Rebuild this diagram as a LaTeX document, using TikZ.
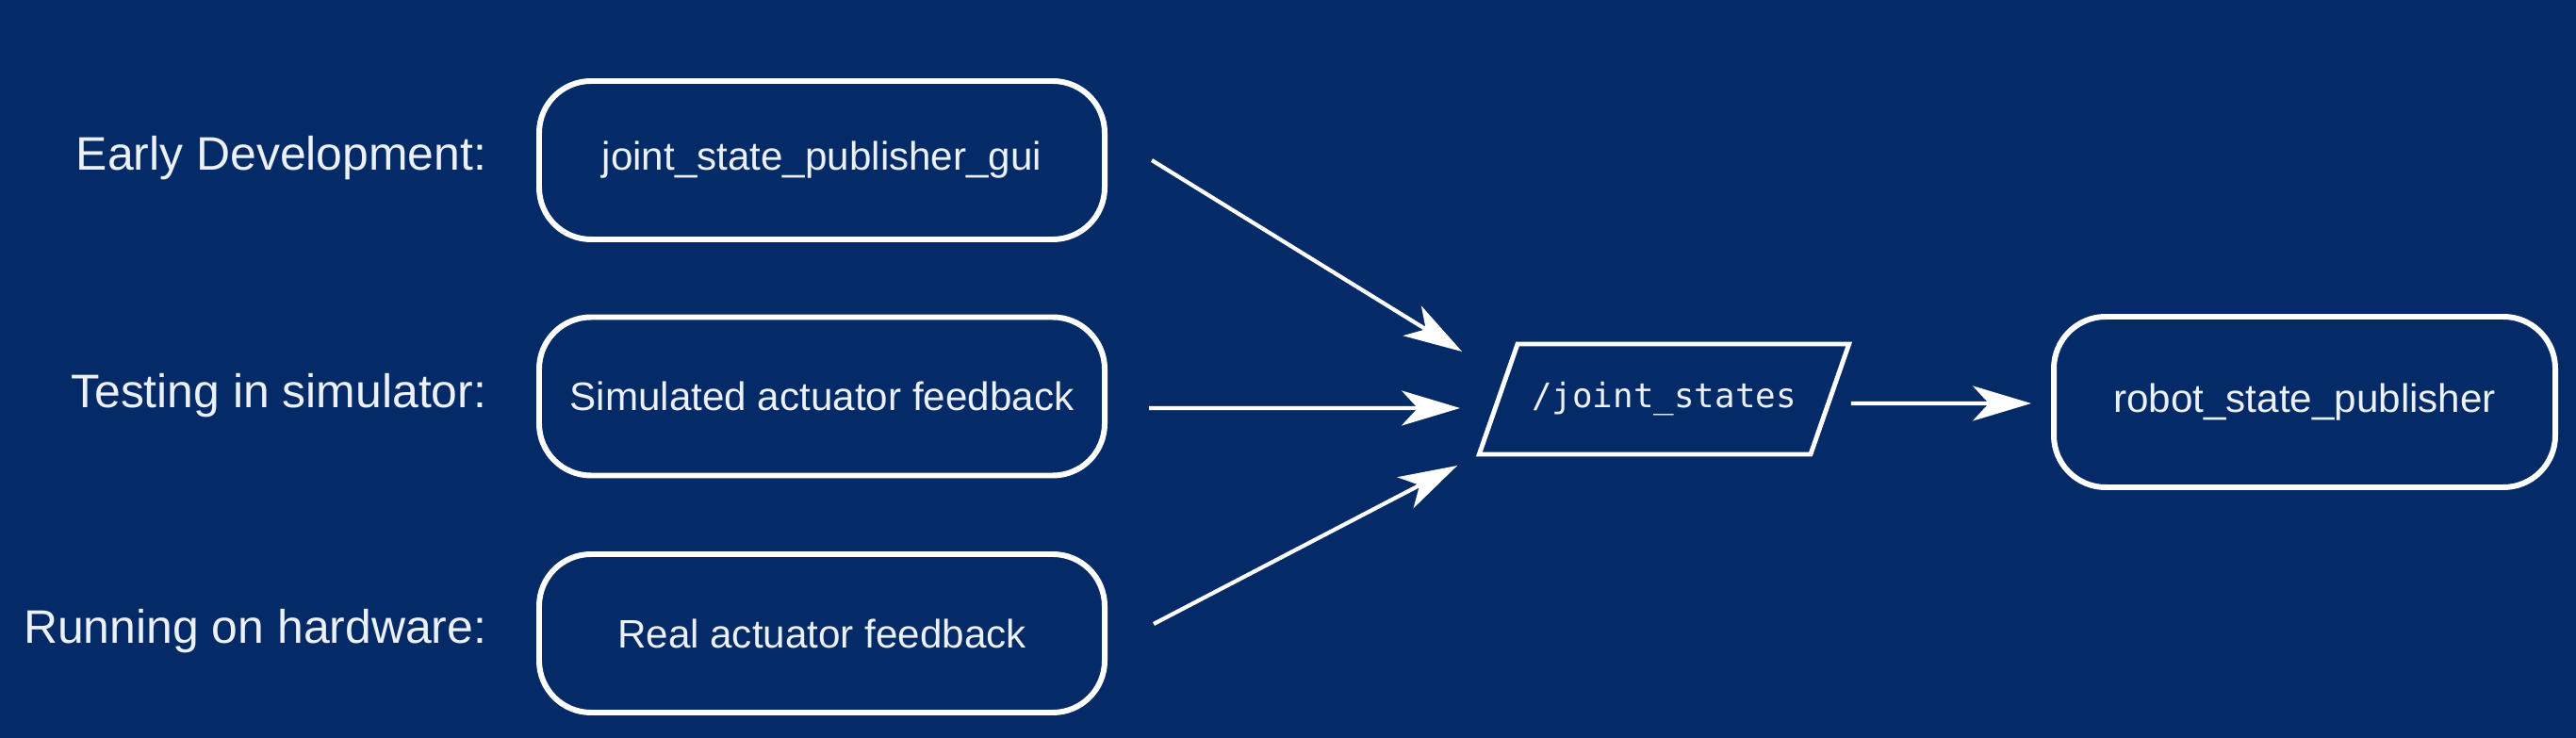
\documentclass[tikz,border=0pt]{standalone}
\usepackage{fontspec}
\setmainfont{Liberation Sans}
\setmonofont{DejaVu Sans Mono}
\usetikzlibrary{arrows.meta,shapes.geometric}
\definecolor{navy}{RGB}{4,43,103}
\definecolor{ink}{RGB}{236,240,248}
\begin{document}
\begin{tikzpicture}[>={Stealth[length=.62cm,width=.37cm,inset=.17cm]},
  box/.style={draw=white, line width=1.7pt, rounded corners=.55cm, minimum width=6cm, minimum height=1.68cm, text=ink, font=\fontsize{12}{14}\selectfont},
  lbl/.style={anchor=east, inner xsep=0pt, text=ink, font=\fontsize{14.2}{17}\selectfont},
  topic/.style={draw=white, line width=1.4pt, trapezium, trapezium left angle=60, trapezium right angle=120, trapezium stretches=true, inner xsep=-.1cm, minimum width=3.96cm, minimum height=1.17cm, text=ink, font=\ttfamily\fontsize{10.2}{12}\selectfont},
  arr/.style={->, draw=white, line width=1.2pt}]
\fill[navy] (0,0) rectangle (27.33,-7.83);
\useasboundingbox (0,0) rectangle (27.33,-7.83);
\node[box] (gui) at (8.72,-1.70) {joint\_state\_publisher\_gui};
\node[box] (sim) at (8.72,-4.205) {Simulated actuator feedback};
\node[box] (real) at (8.72,-6.72) {Real actuator feedback};
\node[lbl] (early) at (5.17,-1.68) {Early Development:};
\node[lbl] (test) at (5.17,-4.20) {Testing in simulator:};
\node[lbl] (run) at (5.17,-6.70) {Running on hardware:};
\node[topic] (js) at (17.655,-4.235) {/joint\_states};
\node[box, minimum width=5.32cm, minimum height=1.81cm] (robot) at (24.45,-4.265) {robot\_state\_publisher};
\draw[arr] ([xshift=.47cm]gui.east)--([shift={(-.36,.505)}]js.west);
\draw[arr] ([shift={(.44,-.125)}]sim.east)--([shift={(-.38,-.095)}]js.west);
\draw[arr] ([shift={(.49,.10)}]real.east)--([shift={(-.41,-.705)}]js.west);
\draw[arr] ([shift={(.20,-.045)}]js.east)--([xshift=-.21cm,yshift=-.015cm]robot.west);
\end{tikzpicture}
\end{document}
